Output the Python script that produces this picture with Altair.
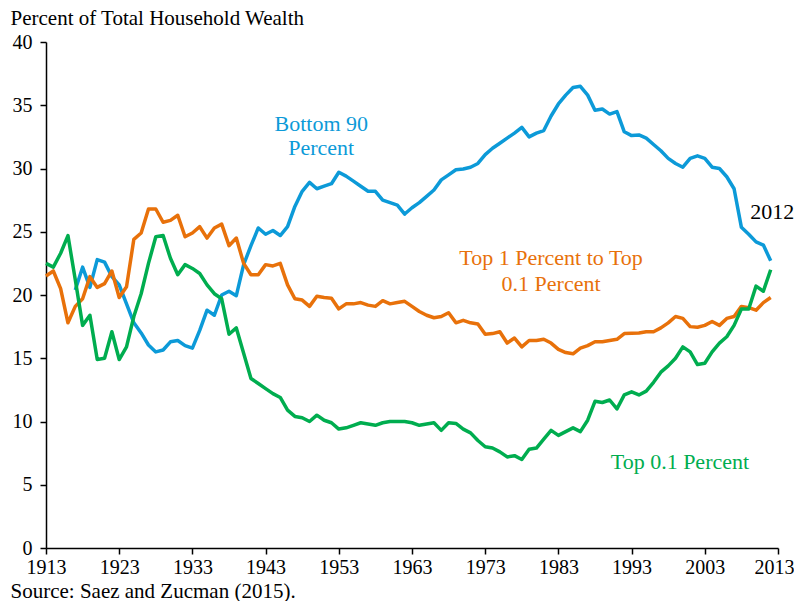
import altair as alt
import pandas as pd

years_all = list(range(1913, 2013))
years_b90 = list(range(1917, 2013))

top01 = [22.5, 22.2, 23.3, 24.7, 21.2, 17.6, 18.4, 14.9, 15.0, 17.1,
         14.9, 15.9, 18.3, 20.1, 22.5, 24.6, 24.7, 22.9, 21.6, 22.4,
         22.1, 21.7, 20.8, 20.1, 19.7, 16.9, 17.4, 15.4, 13.4, 13.0,
         12.6, 12.2, 11.9, 10.9, 10.4, 10.3, 10.0, 10.5, 10.1, 9.9,
         9.4, 9.5, 9.7, 9.9, 9.8, 9.7, 9.9, 10.0, 10.0, 10.0,
         9.9, 9.7, 9.8, 9.9, 9.3, 9.9, 9.85, 9.4, 9.1, 8.5,
         8.0, 7.9, 7.6, 7.2, 7.3, 7.0, 7.8, 7.9, 8.6, 9.3,
         8.9, 9.2, 9.5, 9.2, 10.1, 11.6, 11.5, 11.7, 11.0, 12.1,
         12.35, 12.1, 12.4, 13.1, 13.9, 14.4, 15.0, 15.9, 15.5, 14.5,
         14.6, 15.5, 16.2, 16.7, 17.6, 18.9, 18.9, 20.7, 20.3, 22.0]

top1_to_01 = [21.5, 21.9, 20.5, 17.8, 19.1, 19.7, 21.45, 20.6, 20.9, 21.9,
              19.8, 20.65, 24.4, 24.9, 26.8, 26.8, 25.75, 25.9, 26.3, 24.6,
              24.9, 25.4, 24.5, 25.3, 25.6, 23.9, 24.5, 22.5, 21.6, 21.6,
              22.4, 22.3, 22.5, 20.8, 19.7, 19.6, 19.1, 19.9, 19.8, 19.75,
              18.9, 19.3, 19.3, 19.4, 19.2, 19.1, 19.55, 19.3, 19.4, 19.5,
              19.1, 18.7, 18.4, 18.2, 18.3, 18.6, 17.8, 18.0, 17.8, 17.7,
              16.9, 16.95, 17.1, 16.2, 16.6, 15.9, 16.4, 16.4, 16.5, 16.2,
              15.7, 15.45, 15.35, 15.8, 16.0, 16.3, 16.3, 16.4, 16.5, 16.95,
              16.97, 17.0, 17.1, 17.1, 17.4, 17.8, 18.3, 18.15, 17.5, 17.45,
              17.6, 17.9, 17.6, 18.15, 18.3, 19.1, 19.0, 18.8, 19.4, 19.8]

bottom90 = [20.4, 22.2, 20.6, 22.8, 22.6, 21.45,
            20.8, 19.3, 17.8, 17.0, 16.05, 15.5, 15.65, 16.3, 16.4, 16.0,
            15.8, 17.2, 18.8, 18.4, 20.0, 20.3, 19.95, 22.4, 23.9, 25.3,
            24.8, 25.1, 24.7, 25.4, 27.0, 28.2, 28.9, 28.4, 28.6, 28.8,
            29.7, 29.4, 29.0, 28.6, 28.2, 28.2, 27.5, 27.3, 27.1, 26.4,
            26.9, 27.3, 27.8, 28.3, 29.1, 29.5, 29.9, 29.96, 30.1, 30.4,
            31.1, 31.6, 32.0, 32.4, 32.8, 33.25, 32.5, 32.8, 33.0, 34.15,
            35.1, 35.8, 36.4, 36.5, 35.8, 34.6, 34.7, 34.3, 34.5, 32.9,
            32.6, 32.65, 32.4, 31.9, 31.4, 30.8, 30.4, 30.1, 30.8, 31.0,
            30.8, 30.1, 30.0, 29.35, 28.4, 25.35, 24.8, 24.2, 23.95, 22.7]

series_names = ["Bottom 90", "Top 1 to 0.1", "Top 0.1"]
series_colors = ["#0C9AD8", "#E8710A", "#00AD4F"]

x_ticks = list(range(1913, 2014, 10))
y_ticks = list(range(0, 41, 5))

label_text = ["Bottom 90", "Percent", "Top 1 Percent to Top", "0.1 Percent", "Top 0.1 Percent", "2012"]
label_year = [1950.6, 1950.6, 1982.0, 1982.0, 1999.6, 2012.2]
label_val = [33.5, 31.6, 22.9, 20.9, 6.8, 26.6]
label_colors = ["#0C9AD8", "#0C9AD8", "#E8710A", "#E8710A", "#00AD4F", "#000000"]

rows = []
for y, v in zip(years_b90, bottom90):
    rows.append({"year": y, "value": v, "series": "Bottom 90"})
for y, v in zip(years_all, top1_to_01):
    rows.append({"year": y, "value": v, "series": "Top 1 to 0.1"})
for y, v in zip(years_all, top01):
    rows.append({"year": y, "value": v, "series": "Top 0.1"})
df = pd.DataFrame(rows)

lab = pd.DataFrame({"text": label_text, "year": label_year, "value": label_val,
                    "color": label_colors})

FONT = "Liberation Serif, Times New Roman, serif"

x_enc = alt.X("year:Q",
              scale=alt.Scale(domain=[1913, 2013], nice=False, zero=False),
              axis=alt.Axis(values=x_ticks, format="d",
                            labelFont=FONT, labelFontSize=20, labelColor="black",
                            labelPadding=3, labelFlush=False,
                            labelAlign={"condition": {"test": "datum.value == 2013", "value": "right"},
                                        "value": "center"},
                            labelOffset={"condition": {"test": "datum.value == 2013", "value": 16},
                                         "value": 0},
                            title="Source: Saez and Zucman (2015).",
                            titleAngle=0, titleAnchor="start", titleAlign="left",
                            titleX=-36, titleY=49, titleBaseline="alphabetic",
                            titleFontSize=21, titleFontWeight="normal",
                            titleFont=FONT, titleColor="black"))
y_enc = alt.Y("value:Q",
              scale=alt.Scale(domain=[0, 40], nice=False),
              axis=alt.Axis(values=y_ticks,
                            labelFont=FONT, labelFontSize=20, labelColor="black",
                            labelPadding=8, labelFlush=False,
                            title="Percent of Total Household Wealth",
                            titleAngle=0, titleAnchor="start", titleAlign="left",
                            titleX=-36, titleY=-18, titleBaseline="alphabetic",
                            titleFontSize=21, titleFontWeight="normal",
                            titleFont=FONT, titleColor="black"))

lines = alt.Chart(df).mark_line(strokeWidth=3.5, strokeJoin="round").encode(
    x=x_enc,
    y=y_enc,
    color=alt.Color("series:N",
                    scale=alt.Scale(domain=series_names, range=series_colors),
                    legend=None),
)

texts = alt.Chart(lab).mark_text(font=FONT, fontSize=22, align="center",
                                 baseline="middle").encode(
    x=alt.X("year:Q"),
    y=alt.Y("value:Q"),
    text="text:N",
    color=alt.Color("color:N", scale=None, legend=None),
)

chart = alt.layer(lines, texts).properties(
    width=732, height=506,
    autosize=alt.AutoSizeParams(type="none"),
    padding={"left": 38, "top": 34, "right": 16, "bottom": 53},
).configure(font=FONT).configure_view(stroke=None).configure_axis(
    domainColor="black", domainWidth=1.5, tickColor="black", tickWidth=1.5,
    tickSize=6, grid=False,
)

chart.save("out.html", embed_options={"renderer": "svg", "actions": False})
